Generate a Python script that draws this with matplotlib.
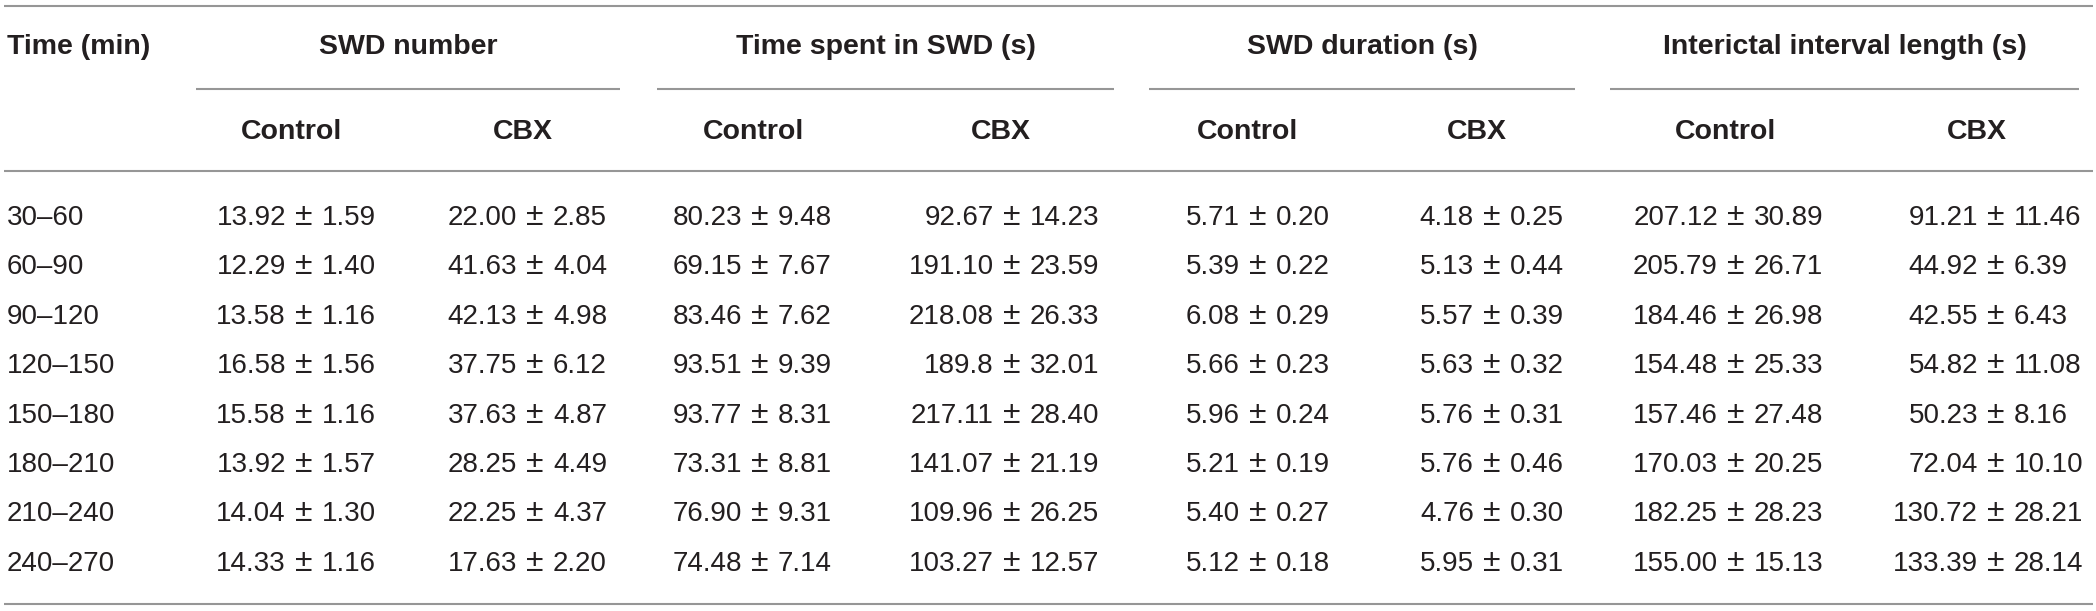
import matplotlib
matplotlib.use("Agg")
import matplotlib.pyplot as plt

# table content
time_bins = ["30–60", "60–90", "90–120", "120–150", "150–180",
             "180–210", "210–240", "240–270"]
groups = ["SWD number", "Time spent in SWD (s)", "SWD duration (s)",
          "Interictal interval length (s)"]
conditions = ["Control", "CBX"]

swd_number_ctrl = [("13.92", "1.59"), ("12.29", "1.40"), ("13.58", "1.16"), ("16.58", "1.56"),
                   ("15.58", "1.16"), ("13.92", "1.57"), ("14.04", "1.30"), ("14.33", "1.16")]
swd_number_cbx = [("22.00", "2.85"), ("41.63", "4.04"), ("42.13", "4.98"), ("37.75", "6.12"),
                  ("37.63", "4.87"), ("28.25", "4.49"), ("22.25", "4.37"), ("17.63", "2.20")]
time_spent_ctrl = [("80.23", "9.48"), ("69.15", "7.67"), ("83.46", "7.62"), ("93.51", "9.39"),
                   ("93.77", "8.31"), ("73.31", "8.81"), ("76.90", "9.31"), ("74.48", "7.14")]
time_spent_cbx = [("92.67", "14.23"), ("191.10", "23.59"), ("218.08", "26.33"), ("189.8", "32.01"),
                  ("217.11", "28.40"), ("141.07", "21.19"), ("109.96", "26.25"), ("103.27", "12.57")]
duration_ctrl = [("5.71", "0.20"), ("5.39", "0.22"), ("6.08", "0.29"), ("5.66", "0.23"),
                 ("5.96", "0.24"), ("5.21", "0.19"), ("5.40", "0.27"), ("5.12", "0.18")]
duration_cbx = [("4.18", "0.25"), ("5.13", "0.44"), ("5.57", "0.39"), ("5.63", "0.32"),
                ("5.76", "0.31"), ("5.76", "0.46"), ("4.76", "0.30"), ("5.95", "0.31")]
interictal_ctrl = [("207.12", "30.89"), ("205.79", "26.71"), ("184.46", "26.98"), ("154.48", "25.33"),
                   ("157.46", "27.48"), ("170.03", "20.25"), ("182.25", "28.23"), ("155.00", "15.13")]
interictal_cbx = [("91.21", "11.46"), ("44.92", "6.39"), ("42.55", "6.43"), ("54.82", "11.08"),
                  ("50.23", "8.16"), ("72.04", "10.10"), ("130.72", "28.21"), ("133.39", "28.14")]

columns = [swd_number_ctrl, swd_number_cbx, time_spent_ctrl, time_spent_cbx,
           duration_ctrl, duration_cbx, interictal_ctrl, interictal_cbx]

# layout in pixel units
W, H = 2096, 611
pm_x = [304, 535, 760, 1012, 1258, 1492, 1736, 1996]
sub_x = [292, 523, 754, 1001, 1247, 1477, 1726, 1977]
group_x = [408, 886, 1362, 1845]
group_span = [(196, 620), (657, 1114), (1149, 1575), (1610, 2079)]
y_top, y_head1, y_part, y_head2, y_line = 6, 47, 89, 132, 171
y_row0, row_step, y_bottom = 215, 49.4, 604
gap = 18
base_off = 10  # baseline sits about half a cap height below row centre

txt_color = "#231f20"
line_color = "#969696"
family = ["Liberation Sans", "DejaVu Sans"]
fs_head = 20.5
fs_body = 20

fig = plt.figure(figsize=(W / 100, H / 100), dpi=100)
ax = fig.add_axes([0, 0, 1, 1])
ax.set_xlim(0, W)
ax.set_ylim(H, 0)
ax.axis("off")

lw = 1.5
for y in (y_top, y_line, y_bottom):
    ax.plot([4, 2093], [y, y], color=line_color, lw=lw, solid_capstyle="butt")
for x0, x1 in group_span:
    ax.plot([x0, x1], [y_part, y_part], color=line_color, lw=lw, solid_capstyle="butt")

ax.text(7, y_head1, "Time (min)", ha="left", va="center", fontsize=fs_head,
        fontweight="bold", family=family, color=txt_color)
for gx, g in zip(group_x, groups):
    ax.text(gx, y_head1, g, ha="center", va="center", fontsize=fs_head,
            fontweight="bold", family=family, color=txt_color)
for i, sx in enumerate(sub_x):
    ax.text(sx, y_head2, conditions[i % 2], ha="center", va="center", fontsize=fs_head,
            fontweight="bold", family=family, color=txt_color)

for r, label in enumerate(time_bins):
    yb = y_row0 + r * row_step + base_off
    ax.text(7, yb, label, ha="left", va="baseline", fontsize=fs_body,
            family=family, color=txt_color)
    for c, col in enumerate(columns):
        mean, err = col[r]
        px = pm_x[c]
        ax.text(px - gap, yb, mean, ha="right", va="baseline", fontsize=fs_body,
                family=family, color=txt_color)
        ax.text(px, yb, "±", ha="center", va="baseline", fontsize=fs_body * 1.15,
                family=family, color=txt_color)
        ax.text(px + gap, yb, err, ha="left", va="baseline", fontsize=fs_body,
                family=family, color=txt_color)

fig.savefig("out.png", dpi=100, facecolor="white")
